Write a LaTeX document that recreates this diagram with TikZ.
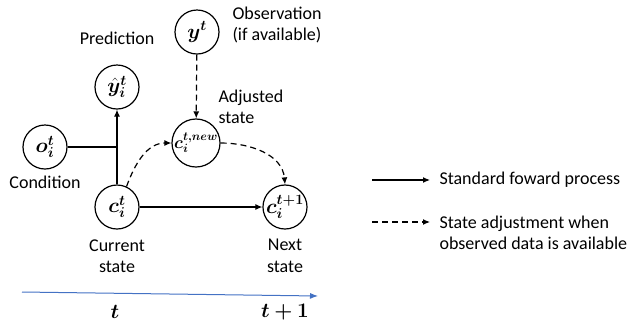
\documentclass[tikz,border=0pt]{standalone}
\usepackage{bm}
\usepackage{fontspec}
\setmainfont{Carlito}
\usetikzlibrary{arrows.meta,positioning}
\definecolor{zeitblau}{HTML}{4472C4}

\begin{document}
\begin{tikzpicture}[x=1pt, y=-1pt, font=\fontsize{18}{21.5}\selectfont,
    zustand/.style={draw, circle, line width=1.2pt, minimum size=44pt, inner sep=0pt,
      font=\fontsize{22}{24}\selectfont},
    pfeil/.style={-{Latex[length=7pt, width=6pt]}, line width=1.2pt},
    anpassung/.style={pfeil, dash pattern=on 6pt off 4pt}]
  \useasboundingbox (0,0) rectangle (642,333);
  % Zustaende
  \node[zustand] (y)    at (197,32)  {$\bm{y}^{\bm{t}}$};
  \node[zustand] (yhat) at (117,87)  {$\hat{\bm{y}}_{\bm{i}}^{\bm{t}}$};
  \node[zustand] (o)    at (45,147)  {$\bm{o}_{\bm{i}}^{\bm{t}}$};
  \node[zustand, font=\fontsize{18}{20}\selectfont] (cneu) at (196,143) {$\bm{c}_{\bm{i}}^{\bm{t,new}}$};
  \node[zustand] (ct)   at (117,207) {$\bm{c}_{\bm{i}}^{\bm{t}}$};
  \node[zustand] (cn)   at (285,207) {$\bm{c}_{\bm{i}}^{\bm{t+1}}$};
  % Beschriftungen
  \node[anchor=west, align=left] (lobs) at (229,25) {Observation\\(if available)};
  \node (lpred) at (117,38) {Prediction};
  \node[anchor=west, align=left] (ladj) at (215,107) {Adjusted\\state};
  \node (lcond) at (45,182) {Condition};
  \node[align=center] (lcur) at (117,256) {Current\\state};
  \node[align=center] (lnext) at (285,256) {Next\\state};
  % Pfeile
  \coordinate (knoten) at (ct |- o);
  \draw[line width=1.2pt] (o) -- (knoten);
  \draw[pfeil] (ct) -- (yhat);
  \draw[pfeil] (ct) -- (cn);
  \draw[anpassung] (y) -- (cneu);
  \draw[anpassung] (ct.65) to[out=70, in=180] (cneu.west);
  \draw[anpassung] (cneu.east) to[out=0, in=95] (cn.north);
  % Zeitachse
  \coordinate (tstart) at (22,292);
  \coordinate (tende) at (318,296);
  \draw[-{Latex[length=8pt, width=6pt]}, zeitblau, line width=1pt] (tstart) -- (tende);
  \node[font=\fontsize{22}{24}\selectfont] (tt) at (115,312) {$\bm{t}$};
  \node[font=\fontsize{22}{24}\selectfont] (tt1) at (285,312) {$\bm{t+1}$};
  % Legende
  \coordinate (la1) at (372,180);
  \coordinate (lb1) at (430,180);
  \coordinate (la2) at (372,222);
  \coordinate (lb2) at (430,222);
  \draw[pfeil] (la1) -- (lb1);
  \draw[anpassung] (la2) -- (lb2);
  \node[anchor=west] (lstd) at (436,180) {Standard foward process};
  \node[anchor=west, align=left] (lanp) at (436,233) {State adjustment when\\observed data is available};
\end{tikzpicture}
\end{document}
